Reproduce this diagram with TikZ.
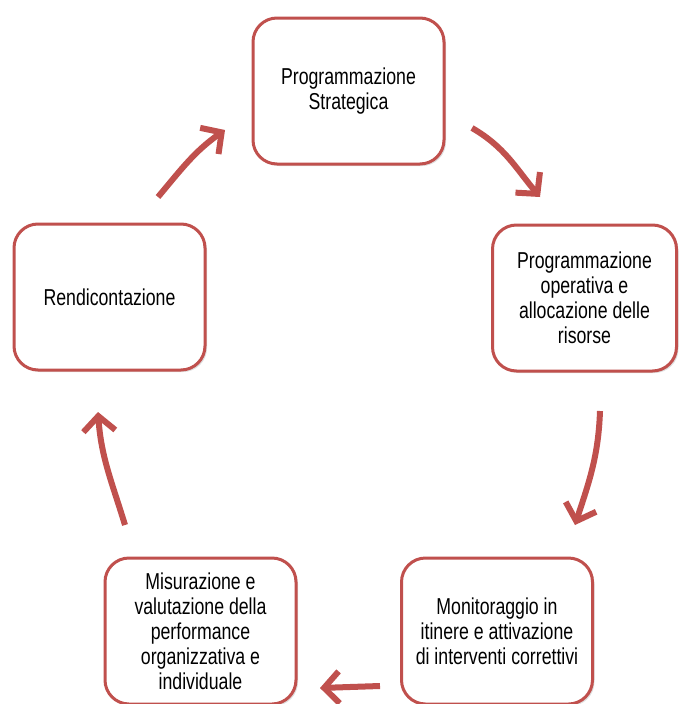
\documentclass[tikz,border=0pt]{standalone}
\usepackage{fontspec}
\setmainfont{Liberation Sans}[FakeStretch=0.77]
\usetikzlibrary{arrows.meta, shadows}
\definecolor{boxred}{HTML}{C0504D}

\begin{document}
\begin{tikzpicture}[x=1pt, y=1pt,
	phase/.style={draw=boxred, line width=3pt, rounded corners=24pt, fill=white,
		minimum width=191pt, minimum height=146pt, align=center,
		font=\fontsize{23pt}{25pt}\selectfont,
		drop shadow={opacity=0.25, shadow xshift=2pt, shadow yshift=-2pt}},
	cyc/.style={draw=boxred, line width=6pt, -{Straight Barb[length=15pt, width=32pt]}}]

	\useasboundingbox (0,0) rectangle (679,-704);

	\node[phase] (strat) at (348.5,-91) {Programmazione\\Strategica};
	\node[phase, minimum width=184pt] (oper) at (584.5,-298) {Programmazione\\operativa e\\allocazione delle\\risorse};
	\node[phase] (monit) at (497,-631) {Monitoraggio in\\itinere e attivazione\\di interventi correttivi};
	\node[phase] (misur) at (200.5,-631) {Misurazione e\\valutazione della\\performance\\organizzativa e\\individuale};
	\node[phase] (rend) at (109.5,-297) {Rendicontazione};

	% free ends of the cycle arrows
	\coordinate (strat-out) at (472,-128);
	\coordinate (oper-in) at (540,-197);
	\coordinate (oper-out) at (600,-411);
	\coordinate (monit-in) at (575,-525);
	\coordinate (monit-out) at (380,-686);
	\coordinate (misur-in) at (320,-688);
	\coordinate (misur-out) at (125,-525);
	\coordinate (rend-in) at (98,-412);
	\coordinate (rend-out) at (158,-197);
	\coordinate (strat-in) at (225,-130);

	\draw[cyc] (strat-out) to[out=-30, in=130] (oper-in);
	\draw[cyc] (oper-out) to[out=-92, in=72] (monit-in);
	\draw[cyc] (monit-out) to (misur-in);
	\draw[cyc] (misur-out) to[out=107, in=-86] (rend-in);
	\draw[cyc] (rend-out) to[out=50, in=215] (strat-in);

\end{tikzpicture}
\end{document}
